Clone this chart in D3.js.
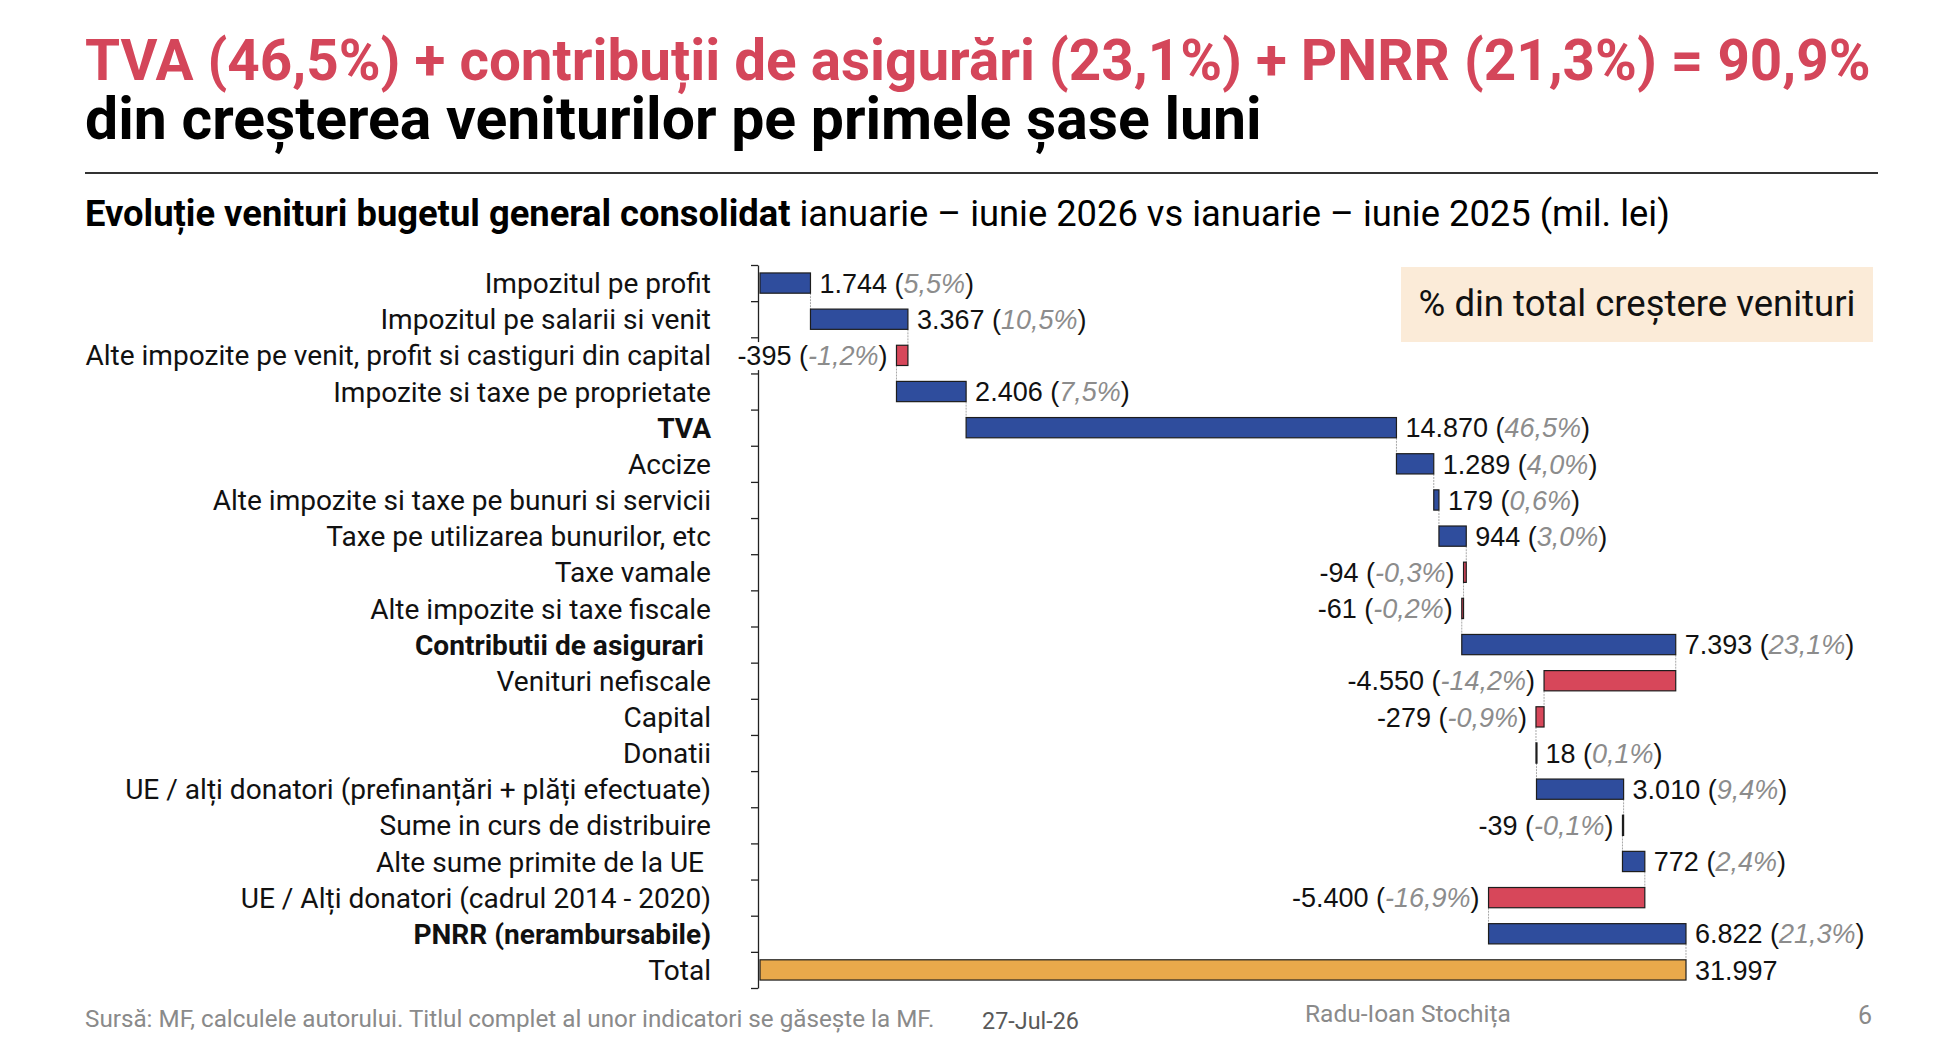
<!DOCTYPE html>
<html>
<head>
<meta charset="utf-8">
<script src="https://cdn.jsdelivr.net/npm/d3@7"></script>
<style>
  body { margin: 0; background: #fff; }
  svg { display: block; }
</style>
</head>
<body>
<div id="chart-area"></div>
<script>
/*
*    waterfall - venituri buget general consolidat
*/

// data (mil. lei)
const categories = [
    "Impozitul pe profit",
    "Impozitul pe salarii si venit",
    "Alte impozite pe venit, profit si castiguri din capital",
    "Impozite si taxe pe proprietate",
    "TVA",
    "Accize",
    "Alte impozite si taxe pe bunuri si servicii",
    "Taxe pe utilizarea bunurilor, etc",
    "Taxe vamale",
    "Alte impozite si taxe fiscale",
    "Contributii de asigurari ",
    "Venituri nefiscale",
    "Capital",
    "Donatii",
    "UE / alți donatori (prefinanțări + plăți efectuate)",
    "Sume in curs de distribuire",
    "Alte sume primite de la UE ",
    "UE / Alți donatori (cadrul 2014 - 2020)",
    "PNRR (nerambursabile)"
]
const values = [1744, 3367, -395, 2406, 14870, 1289, 179, 944, -94, -61, 7393, -4550, -279, 18, 3010, -39, 772, -5400, 6822]
const shares = [5.5, 10.5, -1.2, 7.5, 46.5, 4.0, 0.6, 3.0, -0.3, -0.2, 23.1, -14.2, -0.9, 0.1, 9.4, -0.1, 2.4, -16.9, 21.3]
const boldCategories = ["TVA", "Contributii de asigurari ", "PNRR (nerambursabile)"]
const totalLabel = "Total"
const totalValue = 31997

const WIDTH = 1946
const HEIGHT = 1048

const LABEL_FONT = "Roboto, 'Open Sans', sans-serif"
const NUM_FONT = "'Liberation Sans', Arial, sans-serif"

const ro = d3.formatLocale({ decimal: ",", thousands: ".", grouping: [3], currency: ["", ""], minus: "-" })
const fmtNum = ro.format(",d")
const fmtPct = ro.format(".1f")

// running totals for the waterfall
let run = 0
const rows = categories.map((c, i) => {
    const start = run
    run += values[i]
    return { name: c, value: values[i], share: shares[i], start: start, end: run, type: values[i] >= 0 ? "up" : "down" }
})
rows.push({ name: totalLabel, value: totalValue, share: null, start: 0, end: totalValue, type: "total" })

const COLORS = { up: "#2f4d9d", down: "#d7475a", total: "#e9a94b" }

const svg = d3.select("#chart-area").append("svg")
    .attr("width", WIDTH)
    .attr("height", HEIGHT)

svg.append("rect")
    .attr("width", WIDTH)
    .attr("height", HEIGHT)
    .attr("fill", "#fff")

// scale a text so it spans a given width
function fitWidth(sel, w) {
    const cur = sel.node().getComputedTextLength()
    const fs = parseFloat(sel.attr("font-size"))
    sel.attr("font-size", fs * w / cur)
    return fs * w / cur
}

/* Titles */

const t1 = svg.append("text")
    .attr("x", 85).attr("y", 80)
    .attr("font-family", LABEL_FONT).attr("font-weight", 700)
    .attr("font-size", 50).attr("fill", "#d4465a")
    .text("TVA (46,5%) + contribuții de asigurări (23,1%) + PNRR (21,3%) = 90,9%")
fitWidth(t1, 1786)

const t2 = svg.append("text")
    .attr("x", 85).attr("y", 139)
    .attr("font-family", LABEL_FONT).attr("font-weight", 700)
    .attr("font-size", 50).attr("fill", "#000")
    .text("din creșterea veniturilor pe primele șase luni")
fitWidth(t2, 1177)

svg.append("line")
    .attr("x1", 85).attr("x2", 1878)
    .attr("y1", 173).attr("y2", 173)
    .attr("stroke", "#333").attr("stroke-width", 2)

const sub = svg.append("text")
    .attr("x", 85).attr("y", 226)
    .attr("font-family", LABEL_FONT).attr("font-size", 30).attr("fill", "#000")
sub.append("tspan").attr("font-weight", 700).text("Evoluție venituri bugetul general consolidat")
sub.append("tspan").text(" ianuarie – iunie 2026 vs ianuarie – iunie 2025 (mil. lei)")
fitWidth(sub, 1585)

/* Scales */

const n = rows.length
const yTop = 265
const yBottom = 988

const y = d3.scaleBand()
    .domain(rows.map(d => d.name))
    .range([yTop, yBottom])
    .paddingInner(0.44)
    .paddingOuter(0.22)

const yEdge = d3.scaleLinear()
    .domain([0, n])
    .range([yTop, yBottom])

const x = d3.scaleLinear()
    .domain([0, totalValue])
    .range([760, 1686])

// axis with ticks on the band edges
const axis = svg.append("g")
    .attr("transform", "translate(758,0)")
    .call(d3.axisLeft(yEdge).tickValues(d3.range(n + 1)).tickFormat("").tickSize(7).tickSizeOuter(0))
axis.select(".domain").attr("stroke", "#222").attr("stroke-width", 1.3)
axis.selectAll(".tick line").attr("stroke", "#222").attr("stroke-width", 1.3)

/* Category labels */

const catLabels = svg.append("g").selectAll("text")
    .data(rows)
    .enter().append("text")
    .attr("x", 711)
    .attr("y", d => y(d.name) + y.bandwidth() / 2)
    .attr("dy", "0.36em")
    .attr("text-anchor", "end")
    .attr("font-family", LABEL_FONT)
    .attr("font-size", 26)
    .attr("font-weight", d => boldCategories.includes(d.name) ? 700 : 400)
    .style("white-space", "pre")
    .attr("fill", "#111")
    .text(d => d.name)

const longest = catLabels.filter(d => d.name === categories[2])
const catSize = fitWidth(longest, 626)
catLabels.attr("font-size", catSize)

/* Connectors */

svg.append("g").selectAll("line")
    .data(rows.slice(0, n - 1))
    .enter().append("line")
    .attr("x1", d => x(d.end))
    .attr("x2", d => x(d.end))
    .attr("y1", d => y(d.name) + y.bandwidth())
    .attr("y2", (d, i) => y(rows[i + 1].name))
    .attr("stroke", "#a8a8a8")
    .attr("stroke-width", 1)
    .attr("stroke-dasharray", "2,1")

/* Bars */

svg.append("g").selectAll("rect")
    .data(rows)
    .enter().append("rect")
    .attr("x", d => x(Math.min(d.start, d.end)))
    .attr("y", d => y(d.name))
    .attr("width", d => Math.max(1, Math.abs(x(d.end) - x(d.start))))
    .attr("height", y.bandwidth())
    .attr("fill", d => COLORS[d.type])
    .attr("stroke", "#1d1d1d")
    .attr("stroke-width", 1.2)

/* Value labels (white backing, as the label sits over the axis) */

const labelG = svg.append("g")

const valLabels = labelG.selectAll("text")
    .data(rows)
    .enter().append("text")
    .attr("x", d => d.value >= 0 ? x(Math.max(d.start, d.end)) + 9 : x(Math.min(d.start, d.end)) - 9)
    .attr("y", d => y(d.name) + y.bandwidth() / 2)
    .attr("dy", "0.36em")
    .attr("text-anchor", d => d.value >= 0 ? "start" : "end")
    .attr("font-family", NUM_FONT)
    .attr("font-size", 27)
    .attr("fill", "#111")

valLabels.append("tspan").text(d => fmtNum(d.value))
valLabels.filter(d => d.share !== null).each(function(d) {
    const t = d3.select(this)
    t.append("tspan").text(" (")
    t.append("tspan").attr("font-style", "italic").attr("fill", "#8c8c8c").text(fmtPct(d.share) + "%")
    t.append("tspan").text(")")
})

valLabels.each(function() {
    const b = this.getBBox()
    labelG.insert("rect", "text")
        .attr("x", b.x - 3).attr("y", b.y + 1)
        .attr("width", b.width + 6).attr("height", b.height - 2)
        .attr("fill", "#fff")
})

/* Legend note */

svg.append("rect")
    .attr("x", 1401).attr("y", 267)
    .attr("width", 472).attr("height", 75)
    .attr("fill", "#fbebd8")

const note = svg.append("text")
    .attr("x", 1637).attr("y", 316)
    .attr("text-anchor", "middle")
    .attr("font-family", LABEL_FONT).attr("font-size", 30).attr("fill", "#111")
    .text("% din total creștere venituri")
fitWidth(note, 437)

/* Footer */

const f1 = svg.append("text")
    .attr("x", 85).attr("y", 1027)
    .attr("font-family", LABEL_FONT).attr("font-size", 20).attr("fill", "#8a8a8a")
    .text("Sursă: MF, calculele autorului. Titlul complet al unor indicatori se găsește la MF.")
fitWidth(f1, 850)

const f2 = svg.append("text")
    .attr("x", 982).attr("y", 1029)
    .attr("font-family", LABEL_FONT).attr("font-size", 20).attr("fill", "#595959")
    .text("27-Jul-26")
fitWidth(f2, 97)

const f3 = svg.append("text")
    .attr("x", 1305).attr("y", 1022)
    .attr("font-family", LABEL_FONT).attr("font-size", 20).attr("fill", "#8a8a8a")
    .text("Radu-Ioan Stochița")
fitWidth(f3, 206)

svg.append("text")
    .attr("x", 1872).attr("y", 1024)
    .attr("text-anchor", "end")
    .attr("font-family", LABEL_FONT).attr("font-size", 25).attr("fill", "#8a8a8a")
    .text("6")
</script>
</body>
</html>
